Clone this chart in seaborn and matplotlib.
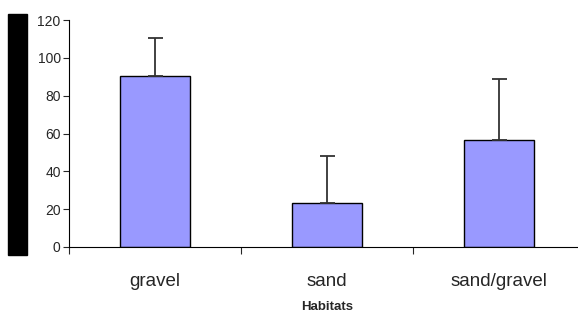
import matplotlib.pyplot as plt
import matplotlib.patches as mpatches
import seaborn as sns
import numpy as np
import pandas as pd

habitats = ['gravel', 'sand', 'sand/gravel']
means = [90.3, 23.3, 56.6]
upper_err = [20.2, 24.8, 32.2]

sns.set_style("white")
plt.rcParams['font.family'] = ['Liberation Sans', 'DejaVu Sans']

df = pd.DataFrame({'habitat': habitats, 'mean': means})

fig = plt.figure(figsize=(5.78, 3.18), dpi=100)
# axes run a little past the right edge, as in the reference
ax = fig.add_axes([69 / 578, 1 - 247 / 318, 516 / 578, 227 / 318])

sns.barplot(data=df, x='habitat', y='mean', color='#9999FF', saturation=1,
            edgecolor='black', linewidth=1.0, width=0.407, ax=ax)
ax.errorbar(np.arange(len(habitats)), means,
            yerr=[np.zeros(len(means)), upper_err],
            fmt='none', ecolor='#333333', elinewidth=1.3, capsize=5.4, capthick=1.3)

ax.set_xlim(-0.5, 2.5)
ax.set_ylim(0, 120)
ax.set_yticks(range(0, 121, 20))
ax.tick_params(axis='y', labelsize=10, length=4, width=0.8, direction='out', left=True, pad=2)
ax.set_xticks([-0.5, 0.5, 1.5], minor=True)
ax.tick_params(axis='x', which='minor', length=5, width=0.8, direction='out', bottom=True)
ax.tick_params(axis='x', which='major', length=0, labelsize=13.5, pad=19)
ax.set_xlabel('Habitats', fontsize=9.5, fontweight='bold', labelpad=8)
ax.set_ylabel('')
sns.despine(ax=ax, top=True, right=True)
for s in ['left', 'bottom']:
    ax.spines[s].set_linewidth(0.8)
    ax.spines[s].set_color('black')

# redacted y-axis label block
fig.patches.append(mpatches.Rectangle((8 / 578, 1 - 255 / 318), 19 / 578, 241 / 318,
                                      transform=fig.transFigure, color='black'))

fig.savefig('out.png', dpi=100)
